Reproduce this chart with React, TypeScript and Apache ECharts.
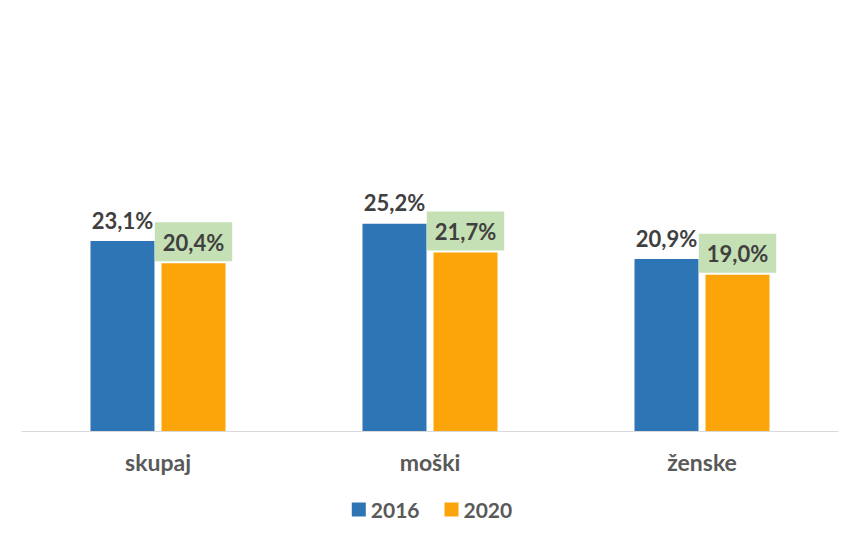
import React, { useEffect, useRef } from "react";
import * as echarts from "echarts";

const categories = ["skupaj", "moški", "ženske"];
const series2016 = [23.1, 25.2, 20.9];
const series2020 = [20.4, 21.7, 19.0];
const seriesNames = ["2016", "2020"];

const fmt = (v: number) => v.toFixed(1).replace(".", ",") + "%";

export default function App() {
  const ref = useRef<HTMLDivElement>(null);
  useEffect(() => {
    document.body.style.margin = "0";
    if (!ref.current) return;
    const chart = echarts.init(ref.current, null, { renderer: "svg" });
    const font = "Lato, 'Open Sans', sans-serif";
    chart.setOption({
      animation: false,
      backgroundColor: "#ffffff",
      grid: { left: 22, right: 26, top: 102, bottom: 115 },
      legend: {
        bottom: 21,
        left: "center",
        itemWidth: 14,
        itemHeight: 14,
        itemGap: 25,
        icon: "rect",
        textStyle: { fontFamily: font, fontSize: 21, fontWeight: "bold", color: "#595959" },
        data: seriesNames,
      },
      xAxis: {
        type: "category",
        data: categories,
        axisLine: { lineStyle: { color: "#D9D9D9", width: 1 } },
        axisTick: { show: false },
        axisLabel: {
          fontFamily: font,
          fontSize: 23,
          fontWeight: "bold",
          color: "#595959",
          margin: 19,
        },
      },
      yAxis: {
        type: "value",
        min: 0,
        max: 40,
        show: false,
        splitLine: { show: false },
      },
      series: [
        {
          name: seriesNames[0],
          type: "bar",
          data: series2016,
          barWidth: 64,
          barGap: "11%",
          itemStyle: { color: "#2E75B6" },
          label: {
            show: true,
            position: "top",
            distance: 10,
            formatter: (p: any) => fmt(p.value),
            fontFamily: font,
            fontSize: 22,
            fontWeight: "bold",
            color: "#404040",
          },
        },
        {
          name: seriesNames[1],
          type: "bar",
          data: series2020,
          barWidth: 64,
          itemStyle: { color: "#FBA50A" },
          label: {
            show: true,
            position: "top",
            distance: 2,
            formatter: (p: any) => fmt(p.value),
            fontFamily: font,
            fontSize: 22,
            fontWeight: "bold",
            color: "#404040",
            backgroundColor: "#C5E0B4",
            padding: [9, 8, 8, 8],
          },
        },
      ],
    });
    return () => chart.dispose();
  }, []);
  return <div ref={ref} style={{ width: 864, height: 546 }} />;
}
